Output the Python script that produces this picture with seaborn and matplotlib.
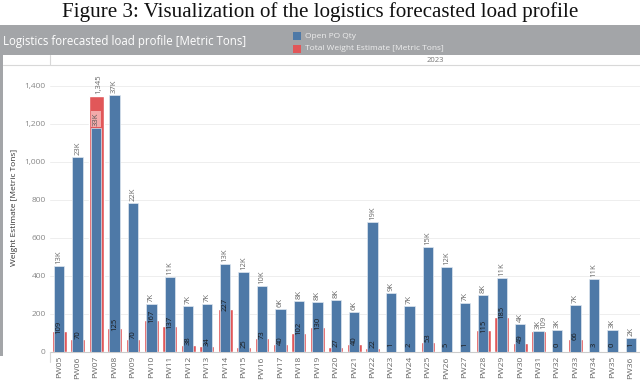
import matplotlib
matplotlib.use("Agg")
import matplotlib.pyplot as plt
import seaborn as sns
import pandas as pd
import numpy as np
from matplotlib.patches import Rectangle

weeks = ["PW05", "PW06", "PW07", "PW08", "PW09", "PW10", "PW11", "PW12", "PW13", "PW14",
         "PW15", "PW16", "PW17", "PW18", "PW19", "PW20", "PW21", "PW22", "PW23", "PW24",
         "PW25", "PW26", "PW27", "PW28", "PW29", "PW30", "PW31", "PW32", "PW33", "PW34",
         "PW35", "PW36"]
# Open PO Qty bar heights (on the weight axis) and their labels
open_po_height = [454, 1028, 1180, 1353, 783, 253, 393, 244, 254, 463,
                  421, 349, 225, 268, 265, 272, 212, 683, 309, 242,
                  551, 446, 260, 298, 391, 146, 108, 117, 246, 384,
                  117, 75]
open_po_labels = ["13K", "23K", "33K", "37K", "22K", "7K", "11K", "7K", "7K", "13K",
                  "12K", "10K", "6K", "8K", "8K", "8K", "6K", "19K", "9K", "7K",
                  "15K", "12K", "7K", "8K", "11K", "4K", "3K", "3K", "7K", "11K",
                  "3K", "2K"]
# Total Weight Estimate [Metric Tons]
weight_est = [109, 70, 1345, 125, 70, 167, 137, 38, 34, 227,
              25, 73, 40, 102, 130, 27, 40, 22, 1, 2,
              53, 5, 1, 115, 185, 49, 109, 0, 66, 3,
              0, 1]
y_ticks = [0, 200, 400, 600, 800, 1000, 1200, 1400]

BLUE = "#4e79a7"
RED = "#e15759"

df = pd.DataFrame({"week": weeks, "po": open_po_height, "wt": weight_est})

sns.set_theme(style="white")
plt.rcParams["font.family"] = ["Open Sans", "DejaVu Sans"]

W, H = 640, 383
fig = plt.figure(figsize=(6.4, 3.83), dpi=100)

def fx(px):
    return px / W

def fy(py):
    return 1 - py / H

# figure caption
fig.text(0.5, fy(12), "Figure 3: Visualization of the logistics forecasted load profile",
         ha="center", va="center", fontsize=15.1, family=["Liberation Serif"], color="#111111")

# header bar
fig.patches.append(Rectangle((0, fy(55)), 1, fy(25) - fy(55), transform=fig.transFigure,
                             facecolor="#a3a5a8", edgecolor="none", zorder=0))
fig.patches.append(Rectangle((0, fy(356)), fx(3), fy(25) - fy(356), transform=fig.transFigure,
                             facecolor="#a3a5a8", edgecolor="none", zorder=0))
fig.text(fx(3), fy(41), "Logistics forecasted load profile [Metric Tons]", ha="left", va="center",
         fontsize=8.3, color="white")
fig.patches.append(Rectangle((fx(293), fy(40)), fx(8), fy(32) - fy(40), transform=fig.transFigure,
                             facecolor=BLUE, edgecolor="none"))
fig.patches.append(Rectangle((fx(293), fy(53)), fx(8), fy(45) - fy(53), transform=fig.transFigure,
                             facecolor=RED, edgecolor="none"))
fig.text(fx(305), fy(36), "Open PO Qty", ha="left", va="center", fontsize=6, color="#eeeeee")
fig.text(fx(305), fy(49), "Total Weight Estimate [Metric Tons]", ha="left", va="center",
         fontsize=6, color="#eeeeee")

# year header row
fig.text(fx(435), fy(60), "2023", ha="center", va="center", fontsize=5.5, color="#777777")
fig.lines.append(plt.Line2D([fx(3), 1], [fy(65), fy(65)], transform=fig.transFigure,
                            color="#d8d8d8", lw=0.8))
fig.lines.append(plt.Line2D([fx(50), fx(50)], [fy(55), fy(65)], transform=fig.transFigure,
                            color="#d8d8d8", lw=0.8))
fig.lines.append(plt.Line2D([fx(50), fx(50)], [fy(352), fy(362)], transform=fig.transFigure,
                            color="#d8d8d8", lw=0.8))

ax = fig.add_axes([fx(50), fy(352), 1 - fx(50), fy(66) - fy(352)])
ymax = 1505
sns.barplot(data=df, x="week", y="wt", color=RED, width=0.81, saturation=1, ax=ax, zorder=2)
sns.barplot(data=df, x="week", y="po", color=BLUE, width=0.56, saturation=1, ax=ax, zorder=3,
            edgecolor="#dfe7f0", linewidth=0.5)
ax.set_xlim(-0.5, len(weeks) - 0.5)
ax.set_ylim(0, ymax)
ax.set_yticks(y_ticks)
ax.set_yticklabels([f"{v:,}" for v in y_ticks], fontsize=6, color="#888888")
ax.tick_params(axis="y", length=0, pad=3)
ax.tick_params(axis="x", length=0, pad=3)
ax.set_xticks(range(len(weeks)))
ax.set_xticklabels(weeks, rotation=90, fontsize=6, color="#666666")
ax.set_xlabel("")
ax.set_ylabel("")
fig.text(fx(15), fy(207), "Weight Estimate [Metric Tons]", rotation=90, ha="center", va="center",
         fontsize=6, color="#333333")
ax.grid(axis="y", color="#eeeeee", lw=0.7, zorder=0)
ax.set_axisbelow(True)
for s in ["top", "right", "left"]:
    ax.spines[s].set_visible(False)
ax.spines["bottom"].set_color("#cccccc")
ax.spines["bottom"].set_linewidth(0.8)

px_per_unit = (352 - 66) / ymax
for i, (po, lab, wt) in enumerate(zip(open_po_height, open_po_labels, weight_est)):
    if i == 2:
        ax.text(i, po + 2 / px_per_unit, lab, rotation=90, ha="center", va="bottom",
                fontsize=5.5, color="#555555", zorder=5,
                bbox=dict(boxstyle="square,pad=0.15", facecolor="#f3aaaa", edgecolor="none"))
    else:
        ax.text(i, po + 2 / px_per_unit, lab, rotation=90, ha="center", va="bottom",
                fontsize=5.5, color="#666666", zorder=5)
    if wt >= po:
        dx = 0.12 if i == 2 else 0.3
        ax.text(i + dx, wt + 2 / px_per_unit, f"{wt:,}", rotation=90, ha="center", va="bottom",
                fontsize=5.5, color="#666666", zorder=5)
    else:
        yc = max(wt + 4 / px_per_unit, 7 / px_per_unit)
        ax.text(i, yc, f"{wt:,}", rotation=90, ha="center", va="center",
                fontsize=5.5, color="#1a1a1a", zorder=5)

fig.savefig("out.png", dpi=100)
